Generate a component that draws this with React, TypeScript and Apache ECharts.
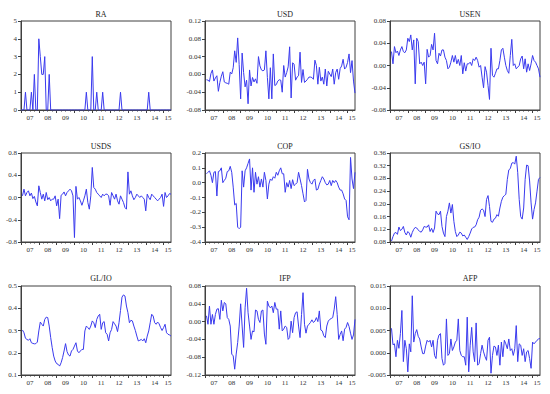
import React, { useEffect, useRef } from "react";
import * as echarts from "echarts";

// Monthly observations 2007M01 .. 2015M06 (102 months)
const YEARS = ["07", "08", "09", "10", "11", "12", "13", "14", "15"];
const MONTHS_LAST_YEAR = 6;

const RA = [
  0, 0, 0, 1, 0, 0, 0, 1, 0, 2, 0, 0,
  4, 3, 2, 2, 3, 0, 0, 2, 0, 0, 0, 0,
  0, 0, 0, 0, 0, 0, 0, 0, 0, 0, 0, 0,
  0, 0, 0, 0, 0, 0, 0, 0, 1, 0, 0, 0,
  3, 0, 0, 1, 0, 0, 0, 1, 0, 0, 0, 0,
  0, 0, 0, 0, 0, 0, 0, 1, 0, 0, 0, 0,
  0, 0, 0, 0, 0, 0, 0, 0, 0, 0, 0, 0,
  0, 0, 1, 0, 0, 0, 0, 0, 0, 0, 0, 0,
  0, 0, 0, 0, 0, 0,
];

const USD = [
  null, -0.012, -0.013, -0.016, 0.002, 0.010, -0.015, -0.008, -0.003, -0.038, -0.018, -0.004,
  0.006, -0.017, -0.019, -0.020, -0.022, 0.005, 0.001, 0.015, 0.053, 0.027, 0.082, 0.022,
  -0.055, 0.048, 0.004, -0.028, -0.013, -0.066, 0.010, -0.026, -0.007, -0.017, -0.010, -0.020,
  0.040, 0.019, 0.010, 0.008, 0.010, 0.053, -0.007, -0.055, 0.015, -0.055, 0.046, -0.025,
  -0.023, -0.015, -0.012, -0.013, -0.040, 0.020, -0.006, 0.004, 0.017, 0.062, -0.053, 0.026,
  0.023, -0.013, -0.006, -0.003, 0.050, -0.018, 0.011, -0.018, -0.015, -0.011, -0.006, -0.006,
  -0.007, -0.011, 0.032, 0.020, -0.022, 0.016, -0.015, -0.006, -0.022, 0.012, -0.026, 0.007,
  0.001, -0.005, 0.012, -0.022, 0.004, 0.012, -0.011, 0.013, 0.019, 0.034, 0.012, 0.016,
  0.027, 0.046, 0.004, 0.031, -0.015, -0.042,
];

const USEN = [
  null, 0.025, 0.003, 0.034, 0.023, 0.026, 0.018, 0.028, 0.034, 0.025, 0.023, 0.028,
  0.049, 0.043, 0.055, 0.028, 0.046, -0.033, 0.049, 0.043, 0.003, 0.006, 0.000, 0.006,
  -0.033, 0.029, 0.015, 0.018, 0.038, 0.028, 0.058, 0.009, 0.003, 0.022, 0.017, 0.028,
  0.028, 0.015, 0.009, -0.006, -0.003, 0.006, 0.018, 0.006, 0.018, 0.003, 0.011, 0.000,
  0.018, -0.015, 0.005, -0.010, 0.003, 0.003, 0.006, 0.000, 0.012, 0.009, 0.015, 0.009,
  -0.003, 0.000, -0.021, -0.040, -0.002, -0.012, -0.036, -0.061, 0.031, -0.018, -0.021, -0.014,
  -0.006, -0.006, 0.009, 0.028, 0.031, 0.015, 0.000, -0.009, -0.014, 0.018, 0.047, 0.000,
  0.003, -0.006, -0.003, 0.000, 0.012, 0.017, -0.006, 0.012, -0.012, 0.003, -0.009, 0.003,
  0.018, 0.009, 0.006, 0.000, -0.006, -0.021,
];

const USDS = [
  null, 0.03, 0.15, 0.03, 0.09, 0.12, 0.03, 0.08, -0.02, 0.02, -0.08, -0.15,
  0.21, 0.09, -0.03, 0.06, -0.06, 0.09, -0.04, 0.00, -0.06, -0.03, -0.03, 0.03,
  -0.15, -0.03, -0.38, 0.04, 0.06, 0.10, 0.03, 0.09, 0.12, 0.15, 0.12, 0.03,
  -0.72, 0.20, -0.03, 0.00, -0.06, -0.14, -0.06, 0.03, 0.15, -0.09, -0.21, 0.03,
  0.54, 0.18, 0.15, 0.09, 0.06, 0.03, 0.00, 0.06, 0.03, 0.06, 0.06, 0.03,
  -0.14, 0.09, 0.03, -0.03, 0.06, -0.06, -0.12, 0.03, -0.03, -0.09, -0.18, -0.21,
  0.46, 0.06, 0.12, 0.03, -0.04, 0.00, 0.06, 0.03, 0.00, 0.03, 0.00, -0.03,
  -0.24, 0.06, 0.00, -0.04, 0.06, 0.03, 0.00, -0.03, -0.06, -0.03, 0.00, 0.06,
  -0.16, 0.09, 0.00, 0.03, 0.07, 0.06,
];

const COP = [
  null, 0.06, 0.07, 0.08, 0.05, 0.00, 0.07, 0.075, -0.09, 0.075, 0.08, 0.10,
  0.00, 0.015, 0.03, 0.075, 0.08, 0.11, 0.07, -0.03, -0.15, -0.14, -0.30, -0.31,
  -0.30, 0.08, -0.03, 0.08, 0.10, 0.13, 0.16, -0.05, 0.10, -0.065, 0.07, -0.01,
  0.04, -0.03, 0.025, -0.03, 0.07, 0.015, -0.11, -0.01, 0.025, 0.015, 0.04, 0.03,
  0.07, 0.05, 0.08, 0.10, 0.06, 0.06, -0.065, 0.00, -0.03, 0.015, -0.04, 0.02,
  -0.02, -0.01, 0.00, 0.07, 0.025, -0.02, -0.075, -0.13, -0.12, 0.09, 0.025, 0.00,
  -0.01, 0.015, 0.025, -0.05, -0.045, -0.01, 0.015, 0.04, 0.025, 0.00, -0.015, -0.01,
  0.015, -0.02, 0.015, 0.00, 0.015, 0.00, -0.03, -0.05, -0.05, -0.075, -0.11, -0.12,
  -0.23, -0.25, 0.17, 0.025, -0.04, 0.07,
];

const GSIO = [
  null, 0.083, 0.097, 0.108, 0.110, 0.104, 0.127, 0.116, 0.120, 0.129, 0.110, 0.102,
  0.113, 0.108, 0.095, 0.110, 0.120, 0.126, 0.124, 0.118, 0.113, 0.111, 0.118, 0.129,
  0.127, 0.127, 0.134, 0.113, 0.123, 0.110, 0.124, 0.177, 0.168, 0.166, 0.177, 0.129,
  0.108, 0.097, 0.160, 0.177, 0.203, 0.171, 0.198, 0.145, 0.113, 0.097, 0.102, 0.111,
  0.108, 0.099, 0.102, 0.095, 0.088, 0.097, 0.108, 0.121, 0.126, 0.127, 0.134, 0.150,
  0.158, 0.180, 0.184, 0.180, 0.160, 0.214, 0.226, 0.192, 0.145, 0.142, 0.152, 0.155,
  0.166, 0.161, 0.187, 0.208, 0.221, 0.226, 0.230, 0.277, 0.307, 0.311, 0.328, 0.330,
  0.325, 0.350, 0.298, 0.214, 0.160, 0.152, 0.187, 0.277, 0.322, 0.320, 0.272, 0.203,
  0.152, 0.182, 0.203, 0.240, 0.277, 0.283,
];

const GLIO = [
  null, 0.302, 0.290, 0.265, 0.260, 0.256, 0.263, 0.245, 0.242, 0.240, 0.241, 0.248,
  0.298, 0.338, 0.328, 0.320, 0.350, 0.360, 0.358, 0.320, 0.268, 0.223, 0.185, 0.163,
  0.151, 0.148, 0.140, 0.155, 0.178, 0.208, 0.241, 0.205, 0.190, 0.185, 0.208, 0.215,
  0.230, 0.245, 0.208, 0.200, 0.208, 0.215, 0.215, 0.298, 0.320, 0.313, 0.305, 0.320,
  0.343, 0.335, 0.313, 0.350, 0.365, 0.373, 0.305, 0.335, 0.340, 0.290, 0.283, 0.253,
  0.290, 0.305, 0.340, 0.330, 0.320, 0.295, 0.335, 0.390, 0.450, 0.460, 0.455, 0.410,
  0.380, 0.335, 0.346, 0.343, 0.320, 0.300, 0.275, 0.253, 0.256, 0.260, 0.253, 0.263,
  0.245, 0.275, 0.298, 0.335, 0.373, 0.365, 0.335, 0.328, 0.338, 0.330, 0.313, 0.300,
  0.313, 0.328, 0.290, 0.283, 0.280, 0.275,
];

const IFP = [
  null, 0.013, -0.006, 0.035, -0.006, 0.016, -0.006, 0.016, 0.028, 0.029, 0.005, 0.048,
  0.024, 0.043, 0.040, 0.009, 0.005, -0.010, -0.073, -0.077, -0.107, -0.073, -0.047, -0.010,
  0.040, -0.010, -0.058, 0.031, 0.075, 0.020, -0.010, -0.040, -0.021, -0.023, 0.026, 0.024,
  0.005, -0.002, 0.024, 0.026, -0.028, -0.051, 0.046, 0.035, 0.031, 0.035, 0.020, 0.043,
  0.028, 0.028, -0.017, 0.024, -0.021, -0.017, -0.010, -0.013, -0.040, -0.036, 0.001, -0.025,
  0.009, 0.020, 0.022, -0.010, -0.036, 0.016, 0.065, -0.006, -0.026, -0.010, -0.006, -0.002,
  0.004, -0.002, 0.001, 0.009, 0.000, 0.024, -0.019, -0.021, -0.032, -0.036, -0.010, 0.001,
  0.005, 0.007, 0.009, 0.028, 0.056, 0.016, -0.040, -0.029, -0.021, -0.043, -0.017, -0.013,
  -0.002, -0.011, -0.026, -0.040, -0.030, 0.005,
];

const AFP = [
  null, 0.0055, 0.0018, 0.0020, -0.0009, 0.0028, 0.0010, 0.0043, 0.0095, -0.0020, 0.0028, 0.0009,
  -0.0043, 0.0020, 0.0002, 0.0128, 0.0024, 0.0043, 0.0052, 0.0037, 0.0031, 0.0013, -0.0002, -0.0002,
  0.0015, 0.0028, 0.0024, 0.0028, 0.0013, 0.0028, -0.0006, -0.0013, 0.0028, 0.0040, 0.0043, -0.0013,
  -0.0028, -0.0024, 0.0076, -0.0006, -0.0002, 0.0031, 0.0005, 0.0013, 0.0024, 0.0028, 0.0076, 0.0005,
  -0.0006, -0.0009, -0.0009, -0.0028, 0.0080, -0.0043, 0.0017, 0.0057, 0.0002, -0.0020, 0.0067, -0.0028,
  -0.0024, -0.0002, 0.0017, 0.0002, -0.0009, -0.0017, 0.0028, 0.0035, -0.0046, -0.0006, 0.0015, 0.0013,
  -0.0006, 0.0017, -0.0028, 0.0024, -0.0009, 0.0028, 0.0020, 0.0009, 0.0031, 0.0005, 0.0009, -0.0006,
  0.0009, 0.0061, -0.0020, 0.0020, 0.0017, -0.0006, 0.0009, -0.0020, 0.0002, 0.0005, -0.0013, -0.0035,
  0.0024, 0.0020, 0.0024, 0.0028, 0.0031, 0.0032,
];

const TITLES = ["RA", "USD", "USEN", "USDS", "COP", "GS/IO", "GL/IO", "IFP", "AFP"];
const SERIES = [RA, USD, USEN, USDS, COP, GSIO, GLIO, IFP, AFP];
const Y_MIN = [0, -0.08, -0.08, -0.8, -0.4, 0.08, 0.1, -0.12, -0.005];
const Y_MAX = [5, 0.12, 0.08, 0.8, 0.2, 0.36, 0.5, 0.08, 0.015];
const Y_STEP = [1, 0.04, 0.04, 0.4, 0.1, 0.04, 0.1, 0.04, 0.005];
const Y_DIGITS = [0, 2, 2, 1, 1, 2, 1, 2, 3];

// month categories
const CATS: string[] = [];
YEARS.forEach((y, yi) => {
  const n = yi === YEARS.length - 1 ? MONTHS_LAST_YEAR : 12;
  for (let m = 1; m <= n; m++) CATS.push(y + "-" + (m < 10 ? "0" + m : "" + m));
});
const N = CATS.length;

const COL_LEFT = [21, 205, 390];
const ROW_TOP = [21, 153, 286];
const GRID_W = 150;
const GRID_H = 89;
const TITLE_TOP = [5, 137, 269];

const FONT = "'Liberation Serif', 'Times New Roman', serif";
const AXIS_COLOR = "#404040";
const LINE_COLOR = "#3a3aee";

export default function App() {
  const ref = useRef<HTMLDivElement>(null);
  useEffect(() => {
    if (!ref.current) return;
    const chart = echarts.init(ref.current, undefined, { renderer: "svg" });
    const grids: any[] = [];
    const xAxes: any[] = [];
    const yAxes: any[] = [];
    const series: any[] = [];
    const titles: any[] = [];
    const lastStart = N - MONTHS_LAST_YEAR;
    const labelAt = (idx: number) =>
      (idx < lastStart && idx % 12 === 6) || idx === lastStart + Math.floor(MONTHS_LAST_YEAR / 2);

    for (let i = 0; i < 9; i++) {
      const c = i % 3;
      const r = Math.floor(i / 3);
      grids.push({
        left: COL_LEFT[c],
        top: ROW_TOP[r],
        width: GRID_W,
        height: GRID_H,
        show: true,
        borderColor: AXIS_COLOR,
        borderWidth: 1,
        backgroundColor: "transparent",
      });
      titles.push({
        text: TITLES[i],
        left: COL_LEFT[c] + GRID_W / 2,
        top: TITLE_TOP[r],
        textAlign: "center",
        textStyle: { fontFamily: FONT, fontSize: 8, fontWeight: "normal", color: "#222" },
      });
      // major axis (year boundaries + labels)
      xAxes.push({
        gridIndex: i,
        type: "category",
        data: CATS,
        boundaryGap: false,
        position: "bottom",
        axisLine: { show: true, onZero: false, lineStyle: { color: AXIS_COLOR, width: 1 } },
        axisTick: {
          show: true,
          interval: (idx: number) => idx % 12 === 0,
          length: 3,
          lineStyle: { color: AXIS_COLOR },
        },
        axisLabel: {
          interval: (idx: number) => labelAt(idx),
          formatter: (v: string) => v.slice(0, 2),
          fontFamily: FONT,
          fontSize: 7,
          color: "#333",
          margin: 4,
        },
        splitLine: { show: false },
      });
      // minor axis (quarterly ticks)
      xAxes.push({
        gridIndex: i,
        type: "category",
        data: CATS,
        boundaryGap: false,
        position: "bottom",
        axisLine: { show: false, onZero: false },
        axisTick: {
          show: true,
          interval: (idx: number) => idx % 3 === 0,
          length: 1.5,
          lineStyle: { color: AXIS_COLOR },
        },
        axisLabel: { show: false },
        splitLine: { show: false },
      });
      const d = Y_DIGITS[i];
      yAxes.push({
        gridIndex: i,
        type: "value",
        min: Y_MIN[i],
        max: Y_MAX[i],
        interval: Y_STEP[i],
        axisLine: { show: true, onZero: false, lineStyle: { color: AXIS_COLOR, width: 1 } },
        axisTick: { show: true, length: 3, lineStyle: { color: AXIS_COLOR } },
        axisLabel: {
          formatter: (v: number) => v.toFixed(d),
          fontFamily: FONT,
          fontSize: 7,
          color: "#333",
          margin: 4,
        },
        splitLine: { show: false },
      });
      series.push({
        type: "line",
        xAxisIndex: 2 * i,
        yAxisIndex: i,
        data: SERIES[i],
        showSymbol: false,
        symbol: "none",
        connectNulls: false,
        lineStyle: { color: LINE_COLOR, width: 1 },
        itemStyle: { color: LINE_COLOR },
      });
    }

    chart.setOption({
      animation: false,
      backgroundColor: "#ffffff",
      title: titles,
      grid: grids,
      xAxis: xAxes,
      yAxis: yAxes,
      series,
    });
    return () => chart.dispose();
  }, []);

  return (
    <div
      ref={ref}
      style={{ position: "absolute", left: 0, top: 0, width: 550, height: 394, background: "#fff" }}
    />
  );
}
